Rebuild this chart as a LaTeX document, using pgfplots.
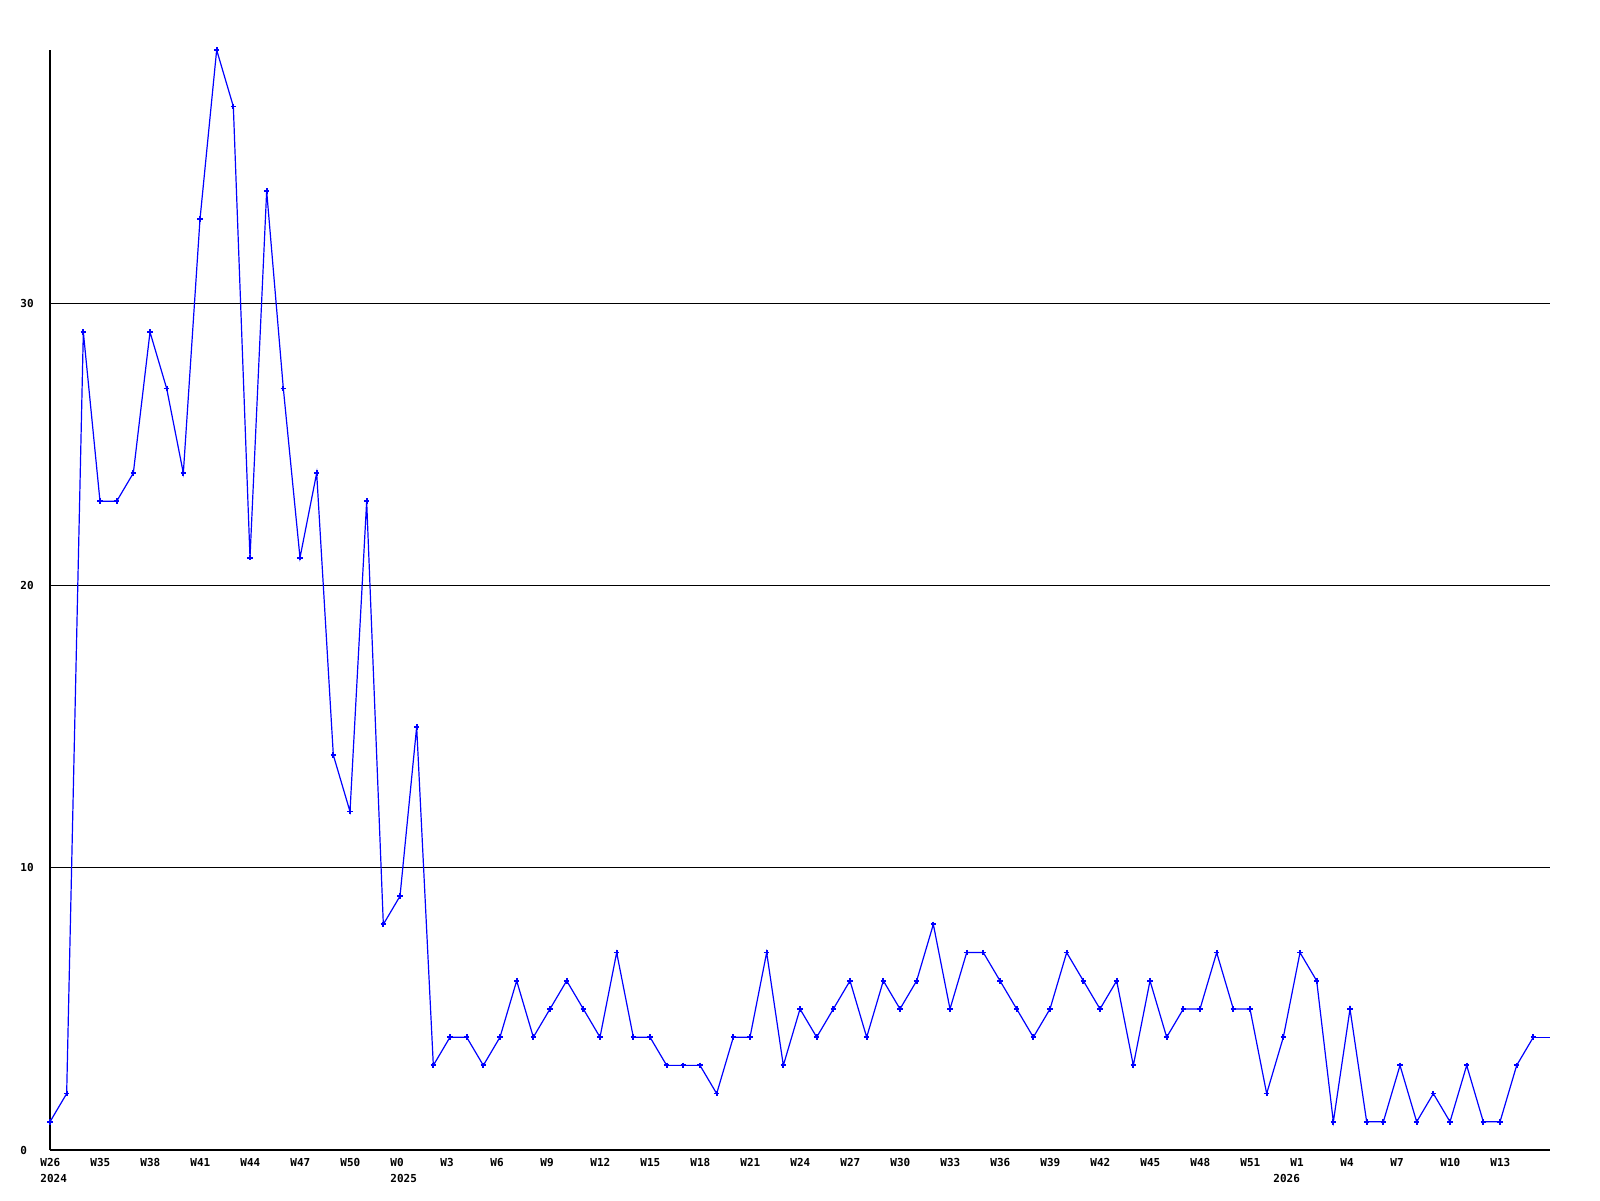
\documentclass[border=0pt]{standalone}
\usepackage{fontspec}
\setmonofont{DejaVu Sans Mono}
\usepackage{pgfplots}
\pgfplotsset{compat=1.18}
\begin{document}
\begin{tikzpicture}
\useasboundingbox (0,0) rectangle (800pt,600pt);
\begin{axis}[
  at={(25pt,25pt)}, anchor=south west,
  scale only axis, width=750pt, height=550pt,
  xmin=0, xmax=90, ymin=0, ymax=39,
  axis lines*=left,
  axis line style={black, line width=0.6pt},
  clip=false,
  ytick={0,10,20,30},
  ymajorgrids, major grid style={black, line width=0.5pt},
  major tick length=0pt,
  xtick={0,3,...,87},
  xticklabels={{W26\\2024},W35,W38,W41,W44,W47,W50,{W0\\2025},W3,W6,W9,W12,W15,W18,W21,W24,W27,W30,W33,W36,W39,W42,W45,W48,W51,{W1\\\makebox[0pt][l]{\hspace*{-8.5pt}2026}},W4,W7,W10,W13},
  ticklabel style={font=\ttfamily\bfseries\fontsize{5.5}{8}\selectfont, inner sep=0pt},
  xticklabel style={anchor=north west, align=left, xshift=-5pt, yshift=-4pt},
  yticklabel style={anchor=west, xshift=-15pt},
  /pgf/number format/assume math mode=true,
]
\addplot[blue, line width=0.6pt, mark=+, mark size=1.4pt, mark options={line width=0.9pt}] coordinates {
(0,1)(1,2)(2,29)(3,23)(4,23)(5,24)(6,29)(7,27)(8,24)(9,33)(10,39)(11,37)(12,21)(13,34)(14,27)(15,21)(16,24)(17,14)(18,12)(19,23)(20,8)(21,9)(22,15)(23,3)(24,4)(25,4)(26,3)(27,4)(28,6)(29,4)(30,5)(31,6)(32,5)(33,4)(34,7)(35,4)(36,4)(37,3)(38,3)(39,3)(40,2)(41,4)(42,4)(43,7)(44,3)(45,5)(46,4)(47,5)(48,6)(49,4)(50,6)(51,5)(52,6)(53,8)(54,5)(55,7)(56,7)(57,6)(58,5)(59,4)(60,5)(61,7)(62,6)(63,5)(64,6)(65,3)(66,6)(67,4)(68,5)(69,5)(70,7)(71,5)(72,5)(73,2)(74,4)(75,7)(76,6)(77,1)(78,5)(79,1)(80,1)(81,3)(82,1)(83,2)(84,1)(85,3)(86,1)(87,1)(88,3)(89,4)
};
\addplot[blue, line width=0.6pt, no marks] coordinates {(89,4)(90,4)};
\end{axis}
\end{tikzpicture}
\end{document}
